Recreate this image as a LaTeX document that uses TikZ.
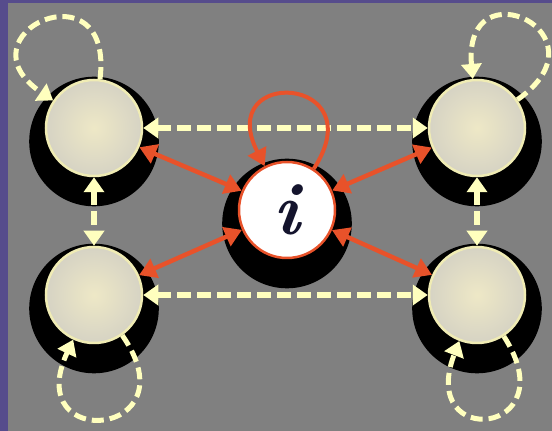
\documentclass[tikz,border=0pt]{standalone}
\usepackage{fontspec}
\usepackage{xcolor}
\usepackage{tikz}
\usetikzlibrary{arrows.meta,shadows}
\definecolor{frame}{RGB}{86,76,140}
\definecolor{canvas}{RGB}{128,128,128}
\definecolor{cream}{RGB}{255,255,190}
\definecolor{nodeedge}{RGB}{240,236,180}
\definecolor{nodecore}{RGB}{238,232,198}
\definecolor{nodeouter}{RGB}{214,211,196}
\definecolor{linkred}{RGB}{232,82,42}
\definecolor{inkblue}{RGB}{20,20,45}

\begin{document}
\begin{tikzpicture}[x=1pt, y=1pt,
  statenode/.style={circle, minimum size=96pt, inner sep=0pt, draw=nodeedge, line width=2.5pt,
    inner color=nodecore, outer color=nodeouter,
    general shadow={fill=black, shadow scale=1.35, shadow yshift=-10pt}},
  focusnode/.style={circle, minimum size=96pt, inner sep=0pt, draw=linkred, line width=2.5pt, fill=white,
    general shadow={fill=black, shadow scale=1.35, shadow yshift=-10pt}},
  dashlink/.style={draw=cream, line width=6pt, dash pattern=on 14pt off 6pt,
    {Triangle[length=15pt, width=20pt]}-{Triangle[length=15pt, width=20pt]}},
  dashloop/.style={draw=cream, line width=5pt, dash pattern=on 12pt off 6pt,
    -{Triangle[length=15pt, width=20pt]}, looseness=1},
  redlink/.style={draw=linkred, line width=4.5pt,
    {Triangle[length=17pt, width=20pt]}-{Triangle[length=17pt, width=20pt]}},
  redloop/.style={draw=linkred, line width=4pt, -{Triangle[length=17pt, width=20pt]}}]

\useasboundingbox (0,0) rectangle (552,431);
\fill[frame] (0,0) rectangle (552,431);
\fill[canvas] (8,0) rectangle (552,428);

\node[statenode] at (94,303) (tl) {};
\node[statenode] at (477,303) (tr) {};
\node[statenode] at (94,136) (bl) {};
\node[statenode] at (477,136) (br) {};
\node[focusnode] at (287,221) (i) {\textcolor{inkblue}{\fontsize{74}{74}\selectfont\bfseries\itshape i}};

% dashed links between the outer states
\draw[dashlink] (tl) -- (tr);
\draw[dashlink] (bl) -- (br);
\draw[dashlink] (tl) -- (bl);
\draw[dashlink] (tr) -- (br);

% red links to i
\draw[redlink] (i) -- (tl);
\draw[redlink] (i) -- (tr);
\draw[redlink] (i) -- (bl);
\draw[redlink] (i) -- (br);

% self loops
\path (tl) edge[dashloop, out=83, in=146, distance=118pt] (tl);
\path (tr) edge[dashloop, out=35, in=95, distance=115pt] (tr);
\path (bl) edge[dashloop, out=-55, in=-115, distance=125pt] (bl);
\path (br) edge[dashloop, out=-57, in=-111, distance=118pt] (br);
\path (i) edge[redloop, out=57, in=117, distance=112pt] (i);

\end{tikzpicture}
\end{document}
